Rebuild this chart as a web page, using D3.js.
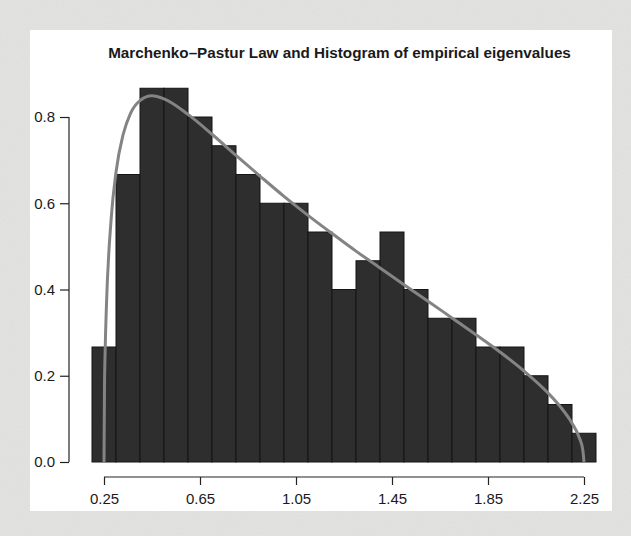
<!DOCTYPE html>
<html>
<head>
<meta charset="utf-8">
<script src="https://cdn.jsdelivr.net/npm/d3@7"></script>
<style>
  body { margin: 0; background: #e6e6e4; }
  svg { display: block; }
  text { font-family: "Liberation Sans", Arial, Helvetica, sans-serif; fill: #1a1a1a; }
</style>
</head>
<body>
<svg id="chart"></svg>
<script>
// histogram of 150 empirical eigenvalues, bins of width 0.1
var binStarts = [0.2, 0.3, 0.4, 0.5, 0.6, 0.7, 0.8, 0.9, 1.0, 1.1, 1.2,
                 1.3, 1.4, 1.5, 1.6, 1.7, 1.8, 1.9, 2.0, 2.1, 2.2];
var binCounts = [4, 10, 13, 13, 12, 11, 10, 9, 9, 8, 6,
                 7, 8, 6, 5, 5, 4, 4, 3, 2, 1];
var binWidth = 0.1;
var nEigen = 150;

// Marchenko-Pastur density
var mpX = [0.25, 0.252, 0.255, 0.26, 0.28, 0.30, 0.33, 0.36, 0.40, 0.45, 0.50,
           0.60, 0.70, 0.80, 0.90, 1.00, 1.10, 1.20, 1.30, 1.40, 1.50, 1.60,
           1.70, 1.80, 1.90, 2.00, 2.10, 2.15, 2.20, 2.23, 2.245, 2.25];
var mpY = [0, 0.170, 0.262, 0.360, 0.565, 0.672, 0.760, 0.808, 0.838, 0.849, 0.842,
           0.806, 0.760, 0.711, 0.663, 0.616, 0.572, 0.530, 0.489, 0.450, 0.411, 0.373,
           0.334, 0.295, 0.255, 0.211, 0.160, 0.129, 0.090, 0.057, 0.028, 0];

var xTicks = [0.25, 0.65, 1.05, 1.45, 1.85, 2.25];
var yTicks = [0.0, 0.2, 0.4, 0.6, 0.8];
var title = "Marchenko\u2013Pastur Law and Histogram of empirical eigenvalues";

var width = 631,
    height = 536;

var svg = d3.select('#chart')
    .attr('width', width)
    .attr('height', height);

// scanned page look
var defs = svg.append('defs');
var grain = defs.append('filter').attr('id', 'grain')
    .attr('x', 0).attr('y', 0).attr('width', '100%').attr('height', '100%');
grain.append('feTurbulence')
    .attr('type', 'fractalNoise')
    .attr('baseFrequency', 0.9)
    .attr('numOctaves', 2)
    .attr('seed', 3);
grain.append('feColorMatrix')
    .attr('type', 'matrix')
    .attr('values', '0 0 0 0 0.5  0 0 0 0 0.5  0 0 0 0 0.5  0 0 0 0.18 0');
grain.append('feComposite').attr('in2', 'SourceGraphic').attr('operator', 'in');

svg.append('rect')
    .attr('width', width)
    .attr('height', height)
    .attr('fill', '#e4e4e2');
svg.append('rect')
    .attr('width', width)
    .attr('height', height)
    .attr('fill', '#e4e4e2')
    .attr('filter', 'url(#grain)');

// white plot panel
svg.append('rect')
    .attr('x', 30)
    .attr('y', 30)
    .attr('width', 582)
    .attr('height', 481)
    .attr('fill', '#ffffff');

var x = d3.scaleLinear()
    .domain([0.25, 2.25])
    .range([104, 584]);

var y = d3.scaleLinear()
    .domain([0, 0.8])
    .range([462, 117]);

var g = svg.append('g');

function density(i) {
    return binCounts[i] / (nEigen * binWidth);
}

// bars
g.selectAll('rect.bar')
    .data(binStarts)
    .enter().append('rect')
    .attr('class', 'bar')
    .attr('x', function (d) { return x(d); })
    .attr('width', function (d) { return x(d + binWidth) - x(d); })
    .attr('y', function (d, i) { return y(density(i)); })
    .attr('height', function (d, i) { return y(0) - y(density(i)); })
    .attr('fill', '#2e2e2e')
    .attr('stroke', '#151515')
    .attr('stroke-width', 1);

// theoretical curve
var line = d3.line()
    .x(function (d) { return x(d); })
    .y(function (d, i) { return y(mpY[i]); })
    .curve(d3.curveMonotoneX);

g.append('path')
    .datum(mpX)
    .attr('d', line)
    .attr('fill', 'none')
    .attr('stroke', '#848484')
    .attr('stroke-width', 3);

// y axis (R style: line spans first to last tick)
var yAxis = svg.append('g')
    .attr('transform', 'translate(69,0)')
    .call(d3.axisLeft(y).tickValues(yTicks).tickFormat(d3.format('.1f')).tickSize(9).tickPadding(5));
yAxis.select('.domain').remove();
yAxis.append('line')
    .attr('y1', y(yTicks[0]))
    .attr('y2', y(yTicks[yTicks.length - 1]))
    .attr('stroke', '#222');

// x axis
var xAxis = svg.append('g')
    .attr('transform', 'translate(0,477)')
    .call(d3.axisBottom(x).tickValues(xTicks).tickFormat(d3.format('.2f')).tickSize(8).tickPadding(8));
xAxis.select('.domain').remove();
xAxis.append('line')
    .attr('x1', x(xTicks[0]))
    .attr('x2', x(xTicks[xTicks.length - 1]))
    .attr('stroke', '#222');

svg.selectAll('g line').attr('stroke', '#222').attr('stroke-width', 1.2);
svg.selectAll('.tick text')
    .style('font-family', '"Liberation Sans", Arial, sans-serif')
    .style('font-size', '15px')
    .attr('fill', '#1a1a1a');

// title, fit to the width seen in the reference
var t = svg.append('text')
    .attr('x', 339.5)
    .attr('y', 58)
    .attr('text-anchor', 'middle')
    .style('font-size', '16px')
    .style('font-weight', 'bold')
    .text(title);
var w = t.node().getComputedTextLength();
t.style('font-size', (16 * 463 / w).toFixed(2) + 'px');
</script>
</body>
</html>
